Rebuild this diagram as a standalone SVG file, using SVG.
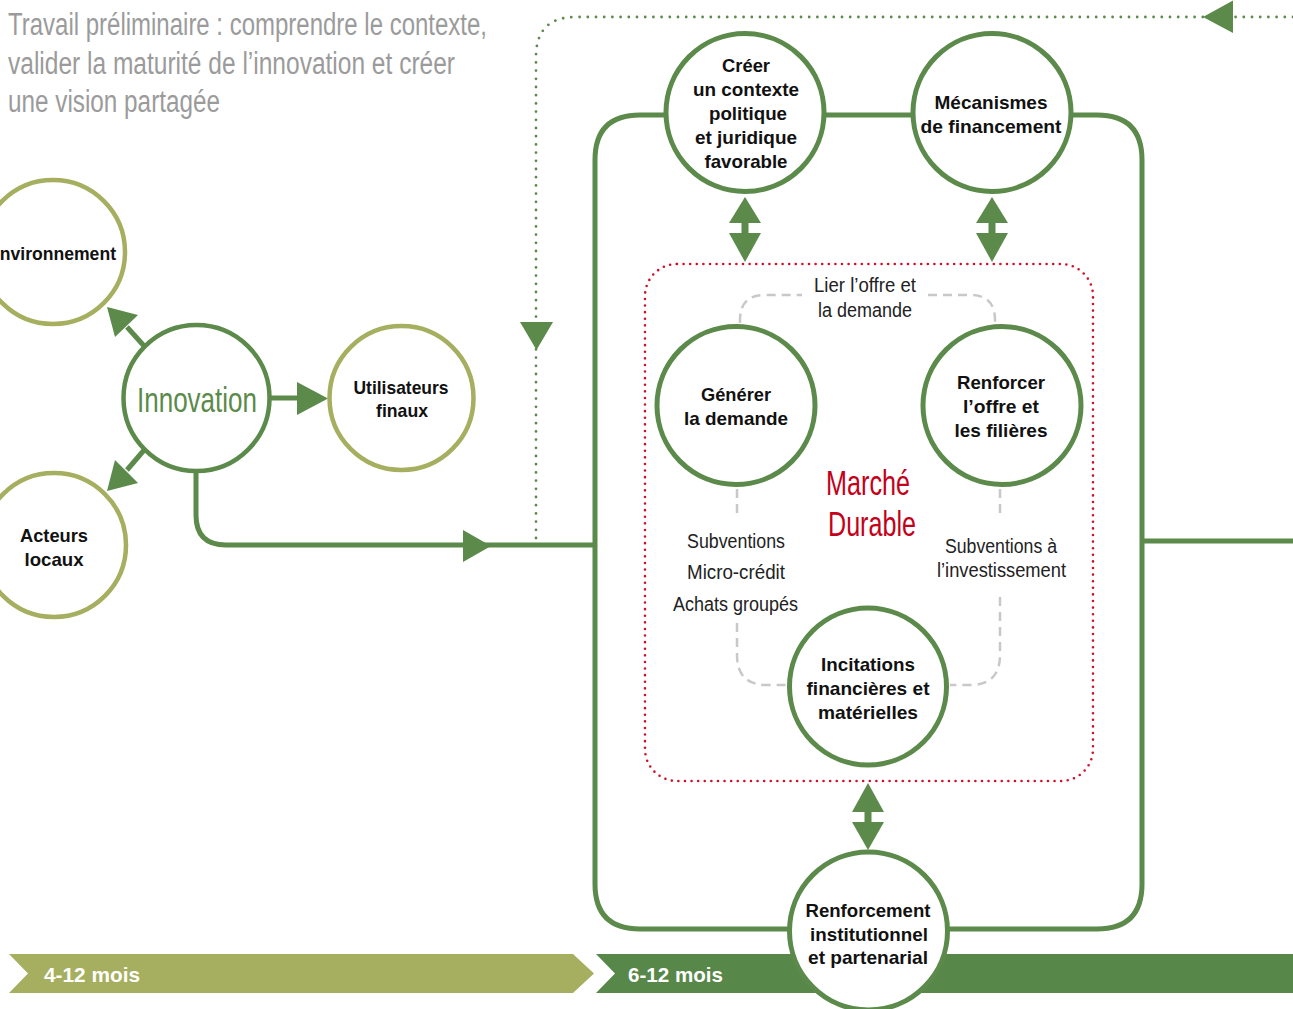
<svg xmlns="http://www.w3.org/2000/svg" width="1293" height="1009" viewBox="0 0 1293 1009">
<style>
text{font-family:"Liberation Sans Narrow","Liberation Sans",Arial,sans-serif}
.t{font-size:31px;fill:#9b9b9b}
.b{font-size:19px;font-weight:700;fill:#111;text-anchor:middle}
.l{font-size:20px;fill:#222;text-anchor:middle}
.w{font-size:21px;font-weight:700;fill:#fff}
.big{font-size:35px;text-anchor:middle}
.dg{fill:#fff;stroke:#5b8a4b;stroke-width:5}
.ol{fill:#fff;stroke:#a6af5f;stroke-width:4.5}
.ln{fill:none;stroke:#5b8a4b;stroke-width:5}
.ah{fill:#5b8a4b}
.gd{fill:none;stroke:#5b8a4b;stroke-width:2.8;stroke-linecap:round;stroke-dasharray:0 8.2}
.rd{fill:none;stroke:#d0102a;stroke-width:2.6;stroke-linecap:round;stroke-dasharray:0 6.6}
.gr{fill:none;stroke:#c8c8c8;stroke-width:2.5;stroke-dasharray:9 6}
</style>

<g id="title">
<text class="t" x="8" y="35" textLength="479" lengthAdjust="spacingAndGlyphs">Travail préliminaire : comprendre le contexte,</text>
<text class="t" x="8" y="74" textLength="447" lengthAdjust="spacingAndGlyphs">valider la maturité de l’innovation et créer</text>
<text class="t" x="8" y="112" textLength="212" lengthAdjust="spacingAndGlyphs">une vision partagée</text>
</g>

<g id="timeline">
<polygon points="9,954 573,954 594,973.5 573,993 9,993 28,973.5" fill="#a6af5f"/>
<polygon points="596,954 1293,954 1293,993 596,993 615,973.5" fill="#58874a"/>
<text class="w" x="44" y="982" textLength="96" lengthAdjust="spacingAndGlyphs">4-12 mois</text>
<text class="w" x="628" y="982" textLength="95" lengthAdjust="spacingAndGlyphs">6-12 mois</text>
</g>

<g id="connectors">
<path class="gd" d="M1293 17 L576 17 Q536 17 536 57 L536 540"/>
<polygon class="ah" points="1203,17 1233,0.5 1233,33"/>
<polygon class="ah" points="520,322 553,322 536.5,350"/>
<path class="ln" d="M645 115 L1097 115 Q1142 115 1142 160 L1142 884 Q1142 929 1097 929 L640 929 Q595 929 595 884 L595 160 Q595 115 640 115 Z"/>
<path class="ln" d="M1142 541 L1293 541"/>
<path class="ln" d="M196 472 L196 515 Q196 545 226 545 L595 545"/>
<polygon class="ah" points="463,530 463,562 491,546"/>
<path class="ln" d="M270 398 L300 398"/>
<polygon class="ah" points="297,382 297,415 328,398.5"/>
<path class="ln" d="M145 347 L127 327"/>
<polygon class="ah" points="107,307 138,315 115,337"/>
<path class="ln" d="M145 449 L127 470"/>
<polygon class="ah" points="107,491 138,483 115,460"/>
<rect class="rd" x="645" y="264" width="448" height="517" rx="32"/>
<path class="gr" d="M740 323 L740 320 Q740 295 765 295 L802 295"/>
<path class="gr" d="M928 295 L970 295 Q995 295 995 320 L995 323"/>
<path class="gr" d="M737 489 L737 518"/>
<path class="gr" d="M737 623 L737 655 Q737 685 767 685 L788 685"/>
<path class="gr" d="M1000 489 L1000 518"/>
<path class="gr" d="M1000 597 L1000 655 Q1000 685 970 685 L950 685"/>
<g class="ah">
<polygon points="729,223 761,223 745,197"/><rect x="741.5" y="222" width="7" height="12"/><polygon points="729,233 761,233 745,262"/>
<polygon points="976,223 1008,223 992,197"/><rect x="988.5" y="222" width="7" height="12"/><polygon points="976,233 1008,233 992,262"/>
<polygon points="852,812 884,812 868,783"/><rect x="864.5" y="811" width="7" height="12"/><polygon points="852,822 884,822 868,850"/>
</g>
</g>

<g id="node-environnement"><circle class="ol" cx="53" cy="252" r="72"/>
<text class="b" x="52" y="260" textLength="128" lengthAdjust="spacingAndGlyphs">Environnement</text></g>
<g id="node-acteurs"><circle class="ol" cx="54" cy="545" r="72"/>
<text class="b" x="54" y="542" textLength="68" lengthAdjust="spacingAndGlyphs">Acteurs</text>
<text class="b" x="54" y="566" textLength="59" lengthAdjust="spacingAndGlyphs">locaux</text></g>
<g id="node-innovation"><circle class="dg" cx="196.5" cy="398" r="73" style="stroke-width:4.5"/>
<text class="big" x="197" y="412" fill="#5b8a4b" textLength="120" lengthAdjust="spacingAndGlyphs">Innovation</text></g>
<g id="node-utilisateurs"><circle class="ol" cx="401.5" cy="398" r="72"/>
<text class="b" x="401" y="394" textLength="95" lengthAdjust="spacingAndGlyphs">Utilisateurs</text>
<text class="b" x="402" y="417" textLength="52" lengthAdjust="spacingAndGlyphs">finaux</text></g>

<g id="node-creer"><circle class="dg" cx="745" cy="112.5" r="79"/>
<text class="b" x="746" y="72" textLength="48" lengthAdjust="spacingAndGlyphs">Créer</text>
<text class="b" x="746" y="96" textLength="106" lengthAdjust="spacingAndGlyphs">un contexte</text>
<text class="b" x="748" y="120" textLength="78" lengthAdjust="spacingAndGlyphs">politique</text>
<text class="b" x="746" y="144" textLength="102" lengthAdjust="spacingAndGlyphs">et juridique</text>
<text class="b" x="746" y="168" textLength="83" lengthAdjust="spacingAndGlyphs">favorable</text></g>
<g id="node-mecanismes"><circle class="dg" cx="992" cy="112.5" r="79"/>
<text class="b" x="991" y="109" textLength="113" lengthAdjust="spacingAndGlyphs">Mécanismes</text>
<text class="b" x="991" y="133" textLength="141" lengthAdjust="spacingAndGlyphs">de financement</text></g>

<g id="node-generer"><circle class="dg" cx="736" cy="405.5" r="79"/>
<text class="b" x="736" y="401" textLength="70" lengthAdjust="spacingAndGlyphs">Générer</text>
<text class="b" x="736" y="425" textLength="104" lengthAdjust="spacingAndGlyphs">la demande</text></g>
<g id="node-renforcer"><circle class="dg" cx="1002" cy="405.5" r="79"/>
<text class="b" x="1001" y="389" textLength="88" lengthAdjust="spacingAndGlyphs">Renforcer</text>
<text class="b" x="1001" y="413" textLength="76" lengthAdjust="spacingAndGlyphs">l’offre et</text>
<text class="b" x="1001" y="437" textLength="93" lengthAdjust="spacingAndGlyphs">les filières</text></g>
<g id="node-incitations"><circle class="dg" cx="868" cy="686.5" r="78.5"/>
<text class="b" x="868" y="671" textLength="94" lengthAdjust="spacingAndGlyphs">Incitations</text>
<text class="b" x="868" y="695" textLength="123" lengthAdjust="spacingAndGlyphs">financières et</text>
<text class="b" x="868" y="719" textLength="100" lengthAdjust="spacingAndGlyphs">matérielles</text></g>
<g id="node-renforcement"><circle class="dg" cx="868.5" cy="931" r="79"/>
<text class="b" x="868" y="917" textLength="125" lengthAdjust="spacingAndGlyphs">Renforcement</text>
<text class="b" x="869" y="941" textLength="118" lengthAdjust="spacingAndGlyphs">institutionnel</text>
<text class="b" x="868" y="964" textLength="120" lengthAdjust="spacingAndGlyphs">et partenarial</text></g>

<g id="labels">
<text class="big" x="868" y="495" fill="#c4001a" textLength="84" lengthAdjust="spacingAndGlyphs">Marché</text>
<text class="big" x="872" y="536" fill="#c4001a" textLength="88" lengthAdjust="spacingAndGlyphs">Durable</text>
<text class="l" x="865" y="292" textLength="102" lengthAdjust="spacingAndGlyphs">Lier l’offre et</text>
<text class="l" x="865" y="317" textLength="94" lengthAdjust="spacingAndGlyphs">la demande</text>
<text class="l" x="736" y="548" textLength="98" lengthAdjust="spacingAndGlyphs">Subventions</text>
<text class="l" x="736" y="579" textLength="98" lengthAdjust="spacingAndGlyphs">Micro-crédit</text>
<text class="l" x="735.5" y="611" textLength="125" lengthAdjust="spacingAndGlyphs">Achats groupés</text>
<text class="l" x="1001" y="553" textLength="112" lengthAdjust="spacingAndGlyphs">Subventions à</text>
<text class="l" x="1001.5" y="577" textLength="129" lengthAdjust="spacingAndGlyphs">l’investissement</text>
</g>
</svg>
